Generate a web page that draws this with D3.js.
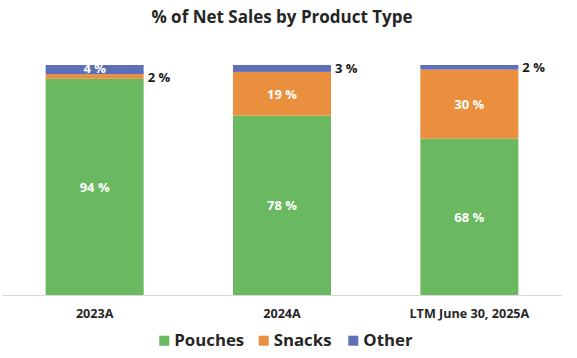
<!DOCTYPE html>
<html><head><meta charset="utf-8">
<script src="https://cdn.jsdelivr.net/npm/d3@7/dist/d3.min.js"></script>
<style>body{margin:0;background:#fff}svg{display:block}text{font-family:"Open Sans",sans-serif}</style>
</head><body>
<svg id="c" width="577" height="358"></svg>
<script>
const categories = ["2023A", "2024A", "LTM June 30, 2025A"];
const seriesNames = ["Pouches", "Snacks", "Other"];
const pouches = [94, 78, 68];
const snacks = [2, 19, 30];
const other = [4, 3, 2];
const colors = ["#6ab85f", "#e98f3d", "#5d6fb7"];

const data = categories.map((c, i) => ({cat: c, Pouches: pouches[i], Snacks: snacks[i], Other: other[i]}));
const stack = d3.stack().keys(seriesNames)(data);

const svg = d3.select("#c");
const x = d3.scaleBand().domain(categories).range([2, 562]).paddingInner(0.477).paddingOuter(0.233);
const y = d3.scaleLinear().domain([0, 100]).range([295, 65]);

svg.append("text").attr("x", 282).attr("y", 23.3).attr("text-anchor", "middle")
  .attr("font-size", 17).attr("font-weight", 700).attr("fill", "#262626")
  .text("% of Net Sales by Product Type");

stack.forEach((s, si) => {
  svg.append("g").selectAll("rect").data(s).join("rect")
    .attr("x", d => x(d.data.cat)).attr("width", x.bandwidth())
    .attr("y", d => y(d[1])).attr("height", d => y(d[0]) - y(d[1]))
    .attr("fill", colors[si]);
});

svg.append("line").attr("x1", 2).attr("x2", 562).attr("y1", 295.5).attr("y2", 295.5)
  .attr("stroke", "#d9d9d9").attr("stroke-width", 1);

// labels
stack.forEach((s, si) => {
  s.forEach((d, i) => {
    const v = d[1] - d[0];
    const h = y(d[0]) - y(d[1]);
    const inside = h >= 9 && !(si === 2 && i > 0);
    const cx = inside ? x(d.data.cat) + x.bandwidth() / 2 : x(d.data.cat) + x.bandwidth() + 4;
    const off = inside ? (h < 12 ? 3.8 : 4.8) : 5;
    svg.append("text")
      .attr("x", cx).attr("y", (y(d[0]) + y(d[1])) / 2 + off)
      .attr("text-anchor", inside ? "middle" : "start")
      .attr("font-size", 13).attr("font-weight", 700)
      .attr("fill", inside ? "#fff" : "#1a1a1a")
      .text(v + " %");
  });
});

const xAxis = svg.append("g").attr("transform", "translate(0,295)")
  .call(d3.axisBottom(x).tickSize(0).tickPadding(0));
xAxis.select(".domain").remove();
xAxis.selectAll("text").attr("y", 23.3).attr("dy", null)
  .attr("font-size", 12.6).attr("font-weight", 700).attr("fill", "#262626")
  .attr("font-family", "'Open Sans',sans-serif");

// legend
const legX = [159.3, 258.7, 348.3];
seriesNames.forEach((n, i) => {
  svg.append("rect").attr("x", legX[i]).attr("y", 335.7).attr("width", 10).attr("height", 10).attr("fill", colors[i]);
  svg.append("text").attr("x", legX[i] + 15).attr("y", 345.7).attr("font-size", 16.8).attr("font-weight", 700)
    .attr("fill", "#262626").text(n);
});
</script>
</body></html>
